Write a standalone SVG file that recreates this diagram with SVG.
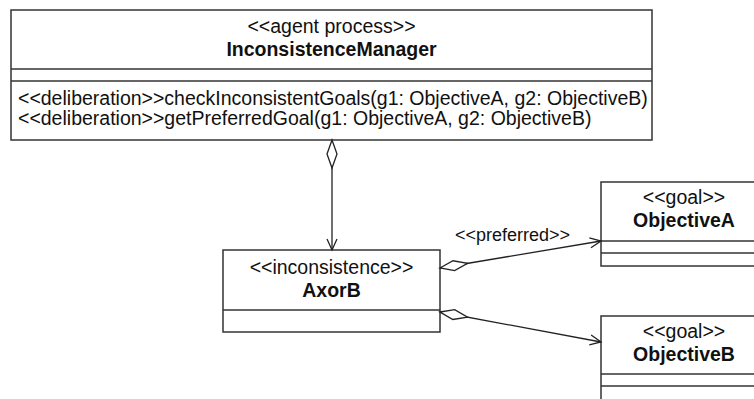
<svg xmlns="http://www.w3.org/2000/svg" width="754" height="399" viewBox="0 0 754 399">
<style>
.box{fill:#fff;stroke:#333;stroke-width:1.5}
.sep{stroke:#333;stroke-width:1.5;fill:none}
.t{font-family:"Liberation Sans",Arial,sans-serif;font-size:19.5px;fill:#111}
.b{font-weight:bold}
.c{text-anchor:middle}
.edge{stroke:#222;stroke-width:1.3;fill:none}
</style>
<defs>
<marker id="dia" markerUnits="userSpaceOnUse" markerWidth="32" markerHeight="12" refX="0" refY="0" orient="auto" overflow="visible">
<path d="M0,0 L14,-5 L28,0 L14,5 Z" fill="#fff" stroke="#222" stroke-width="1.3"/>
</marker>
<marker id="arr" markerUnits="userSpaceOnUse" markerWidth="12" markerHeight="12" refX="0" refY="0" orient="auto" overflow="visible">
<path d="M-11,-5 L0,0 L-11,5" fill="none" stroke="#222" stroke-width="1.3"/>
</marker>
</defs>
<g id="InconsistenceManager">
<rect class="box" x="11" y="10" width="641" height="130"/>
<line class="sep" x1="11" y1="69" x2="652" y2="69"/>
<line class="sep" x1="11" y1="81" x2="652" y2="81"/>
<text class="t c" x="331.5" y="33">&lt;&lt;agent process&gt;&gt;</text>
<text class="t c b" x="331.5" y="56">InconsistenceManager</text>
<text class="t" x="18" y="105">&lt;&lt;deliberation&gt;&gt;checkInconsistentGoals(g1: ObjectiveA, g2: ObjectiveB)</text>
<text class="t" x="18" y="125">&lt;&lt;deliberation&gt;&gt;getPreferredGoal(g1: ObjectiveA, g2: ObjectiveB)</text>
</g>
<g id="AxorB">
<rect class="box" x="223" y="250" width="217" height="82"/>
<line class="sep" x1="223" y1="310" x2="440" y2="310"/>
<text class="t c" x="331.5" y="274">&lt;&lt;inconsistence&gt;&gt;</text>
<text class="t c b" x="331.5" y="297">AxorB</text>
</g>
<g id="ObjectiveA">
<rect class="box" x="601" y="182" width="170" height="84"/>
<line class="sep" x1="601" y1="241" x2="771" y2="241"/>
<line class="sep" x1="601" y1="253" x2="771" y2="253"/>
<text class="t c" x="684" y="204">&lt;&lt;goal&gt;&gt;</text>
<text class="t c b" x="684" y="227">ObjectiveA</text>
</g>
<g id="ObjectiveB">
<rect class="box" x="601" y="316" width="170" height="100"/>
<line class="sep" x1="601" y1="374" x2="771" y2="374"/>
<line class="sep" x1="601" y1="386" x2="771" y2="386"/>
<text class="t c" x="684" y="338">&lt;&lt;goal&gt;&gt;</text>
<text class="t c b" x="684" y="361">ObjectiveB</text>
</g>
<g id="connectors">
<path class="edge" d="M332,140 L332,250" marker-start="url(#dia)" marker-end="url(#arr)"/>
<path class="edge" d="M440,268 L601,241" marker-start="url(#dia)" marker-end="url(#arr)"/>
<path class="edge" d="M440,312 L601,342" marker-start="url(#dia)" marker-end="url(#arr)"/>
<text class="t" style="font-size:18px" x="455" y="241">&lt;&lt;preferred&gt;&gt;</text>
</g>
</svg>
